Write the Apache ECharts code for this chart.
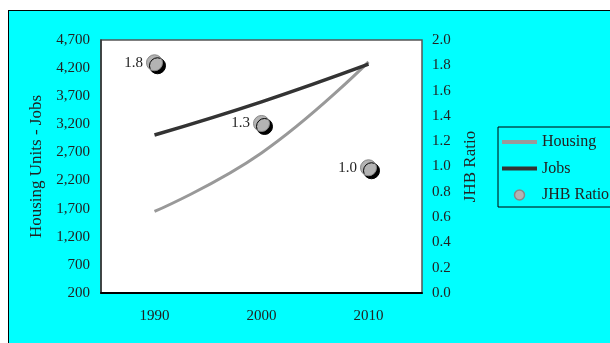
<!DOCTYPE html>
<html>
<head>
<meta charset="utf-8">
<script src="https://cdn.jsdelivr.net/npm/echarts@6/dist/echarts.min.js"></script>
<style>
html,body{margin:0;padding:0;background:#fff;overflow:hidden;}
#bg{position:absolute;left:8px;top:10px;width:700px;height:400px;background:#00ffff;border:1px solid #000;}
#chart{position:absolute;left:0;top:0;width:610px;height:343px;}
</style>
</head>
<body>
<div id="bg"></div>
<div id="chart"></div>
<script>
var years = ['1990', '2000', '2010'];
var housing = [1650, 2690, 4310];
var jobs = [3010, 3600, 4270];
var jhbRatio = [1.82, 1.34, 0.99];
var leftTicks = {min: 200, max: 4700, interval: 500};
var rightTicks = {min: 0, max: 2.0, interval: 0.2};

var FONT = 'Liberation Serif';
var LINE_ICON = 'path://M0,0H35V4H0Z';
var chart = echarts.init(document.getElementById('chart'), null, {renderer: 'canvas'});
chart.setOption({
  backgroundColor: 'transparent',
  animation: false,
  textStyle: {fontFamily: FONT, color: '#222'},
  grid: {left: 101, right: 188, top: 40, bottom: 50, show: true, backgroundColor: '#fff', borderColor: '#555', borderWidth: 1.5},
  legend: {
    orient: 'vertical', left: 498, top: 127,
    padding: [7, 6, 4, 4],
    borderColor: '#000', borderWidth: 1,
    itemWidth: 35, itemHeight: 10, itemGap: 10.5,
    symbolKeepAspect: true,
    textStyle: {fontFamily: FONT, fontSize: 16, color: '#222'},
    data: [
      {name: 'Housing', icon: LINE_ICON, itemStyle: {color: '#999'}},
      {name: 'Jobs', icon: LINE_ICON, itemStyle: {color: '#333'}},
      {name: 'JHB Ratio', icon: 'circle', itemStyle: {color: '#b3b3b3', borderColor: '#888', borderWidth: 1.5, shadowBlur: 0, shadowOffsetX: 0, shadowOffsetY: 0, shadowColor: 'transparent'}}
    ]
  },
  xAxis: {
    type: 'category', data: years, boundaryGap: true,
    axisLine: {lineStyle: {color: '#000', width: 2}},
    axisTick: {inside: true, length: 5, lineStyle: {color: '#000'}},
    axisLabel: {fontFamily: FONT, fontSize: 15, color: '#222', margin: 16}
  },
  yAxis: [
    {
      type: 'value', min: leftTicks.min, max: leftTicks.max, interval: leftTicks.interval,
      name: 'Housing Units - Jobs', nameLocation: 'middle', nameGap: 54, nameRotate: 90,
      nameTextStyle: {fontFamily: FONT, fontSize: 17, color: '#222'},
      axisLine: {show: true, lineStyle: {color: '#333', width: 1.5}},
      axisTick: {show: false}, splitLine: {show: false},
      axisLabel: {fontFamily: FONT, fontSize: 15, color: '#222', margin: 11,
        formatter: function (v) { return v.toLocaleString('en-US'); }}
    },
    {
      type: 'value', min: rightTicks.min, max: rightTicks.max, interval: rightTicks.interval,
      name: 'JHB Ratio', nameLocation: 'middle', nameGap: 38, nameRotate: 90,
      nameTextStyle: {fontFamily: FONT, fontSize: 17, color: '#222'},
      axisLine: {show: false}, axisTick: {show: false}, splitLine: {show: false},
      axisLabel: {fontFamily: FONT, fontSize: 15, color: '#222', margin: 10,
        formatter: function (v) { return v.toFixed(1); }}
    }
  ],
  series: [
    {
      name: 'Housing', type: 'line', data: housing, smooth: 0.45, symbol: 'none',
      lineStyle: {color: '#999', width: 3}, itemStyle: {color: '#999'}
    },
    {
      name: 'Jobs', type: 'line', data: jobs, smooth: 0.45, symbol: 'none',
      lineStyle: {color: '#333', width: 3.5}, itemStyle: {color: '#333'}
    },
    {
      name: 'JHB Ratio', type: 'scatter', yAxisIndex: 1, data: jhbRatio,
      symbol: 'circle', symbolSize: 16,
      itemStyle: {color: '#b3b3b3', borderColor: '#888', borderWidth: 1, opacity: 1,
        shadowColor: '#000', shadowBlur: 0, shadowOffsetX: 3, shadowOffsetY: 3},
      label: {show: true, position: 'left', distance: 3, fontFamily: FONT, fontSize: 15, color: '#222',
        formatter: function (p) { return p.value.toFixed(1); }}
    }
  ]
});
</script>
</body>
</html>
